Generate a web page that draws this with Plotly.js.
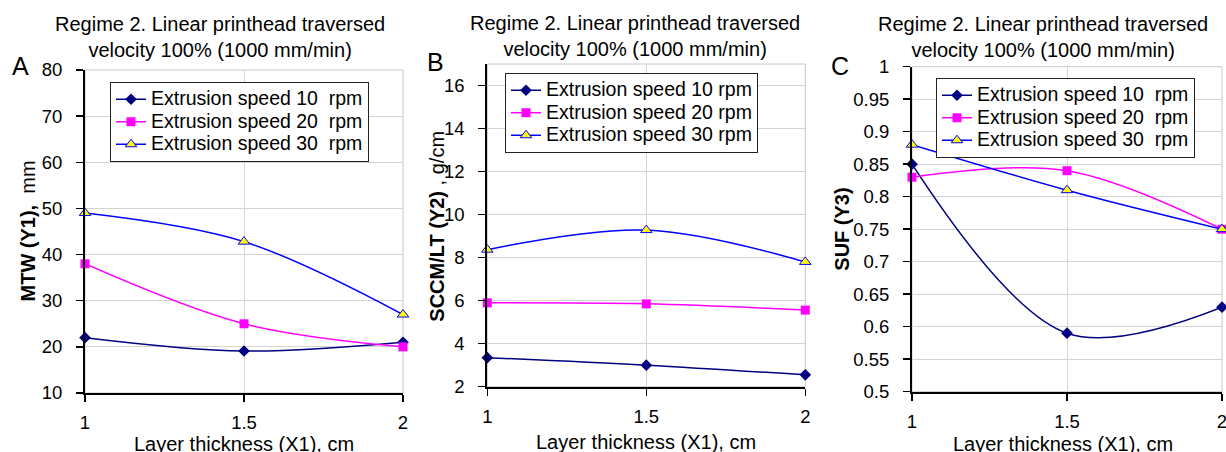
<!DOCTYPE html>
<html>
<head>
<meta charset="utf-8">
<script src="https://cdn.plot.ly/plotly-3.0.1.min.js"></script>
<style>html,body{margin:0;padding:0;background:#fff;}#chart{width:1226px;height:452px;}</style>
</head>
<body>
<div id="chart"></div>
<script>
// ---- data ----
const thickness = [1, 1.5, 2];
const thicknessLabels = ['1', '1.5', '2'];
const seriesNamesA = ['Extrusion speed 10\u00a0 rpm', 'Extrusion speed 20\u00a0 rpm', 'Extrusion speed 30\u00a0 rpm'];
const seriesNamesB = ['Extrusion speed 10 rpm', 'Extrusion speed 20 rpm', 'Extrusion speed 30 rpm'];
const mtw10 = [22, 19.1, 21];
const mtw20 = [38, 25, 20];
const mtw30 = [49, 42.8, 27];
const sccm10 = [3.35, 3.0, 2.55];
const sccm20 = [5.9, 5.85, 5.56];
const sccm30 = [8.37, 9.28, 7.8];
const suf10 = [0.85, 0.59, 0.63];
const suf20 = [0.83, 0.84, 0.75];
const suf30 = [0.88, 0.81, 0.75];
const yTicksB = [2, 4, 6, 8, 10, 12, 14, 16];

const W = 1226, H = 452;
const FONT = 'Liberation Sans, Arial, sans-serif';
const px = v => v / W;
const py = v => 1 - v / H;

const styles = [
  {line: {color: '#000080', width: 1.5, shape: 'spline', smoothing: 1}, marker: {symbol: 'diamond', size: 9, color: '#000080'}},
  {line: {color: '#FF00FF', width: 1.5, shape: 'spline', smoothing: 1}, marker: {symbol: 'square', size: 9, color: '#FF00FF'}},
  {line: {color: '#0000FF', width: 1.5, shape: 'spline', smoothing: 1}, marker: {symbol: 'triangle-up', size: 10, color: '#FFFF00', line: {color: '#0000FF', width: 1}}}
];

function mk(ys, names, xa, ya, leg) {
  return ys.map((y, i) => ({
    x: thickness, y: y,
    name: '<span style="font-size:19.5px">' + names[i] + '</span>',
    type: 'scatter', mode: 'lines+markers',
    xaxis: xa, yaxis: ya, legend: leg, cliponaxis: false,
    line: styles[i].line, marker: styles[i].marker
  }));
}

const data = [].concat(
  mk([mtw10, mtw20, mtw30], seriesNamesA, 'x', 'y', 'legend'),
  mk([sccm10, sccm20, sccm30], seriesNamesB, 'x2', 'y2', 'legend2'),
  mk([suf10, suf20, suf30], seriesNamesA, 'x3', 'y3', 'legend3')
);

const panels = [
  {l: 85, r: 403, t: 70, b: 393},
  {l: 487.3, r: 805.3, t: 64, b: 386.7},
  {l: 912, r: 1222, t: 66.7, b: 391.7}
];

function xax(p, anchor) {
  return {
    domain: [px(p.l), px(p.r)], anchor: anchor, range: [1, 2],
    tickvals: thickness, ticktext: thicknessLabels,
    showgrid: true, gridcolor: '#d4d4d4', gridwidth: 1,
    showline: true, linecolor: '#000', linewidth: 2,
    ticks: 'outside', ticklen: 7, tickwidth: 1.5, tickcolor: '#000',
    ticklabelstandoff: 5, ticklabeloverflow: 'allow',
    tickfont: {family: FONT, size: 18.5, color: '#000'},
    zeroline: false, fixedrange: true
  };
}
function yax(p, anchor, range, extra) {
  return Object.assign({
    domain: [py(p.b), py(p.t)], anchor: anchor, range: range,
    showgrid: true, gridcolor: '#d4d4d4', gridwidth: 1,
    showline: true, linecolor: '#000', linewidth: 2,
    ticks: 'outside', ticklen: 7, tickwidth: 1.5, tickcolor: '#000',
    ticklabelstandoff: 10, ticklabeloverflow: 'allow',
    tickfont: {family: FONT, size: 18.5, color: '#000'},
    zeroline: false, fixedrange: true
  }, extra);
}

const legendBase = {
  bgcolor: '#fff', bordercolor: '#222', borderwidth: 1,
  font: {family: FONT, size: 15, color: '#000'},
  xanchor: 'left', yanchor: 'top', tracegroupgap: 0, itemwidth: 30
};

const title = 'Regime 2. Linear printhead traversed<br>velocity 100% (1000 mm/min)';
const ann = [];
function addText(text, x, y, size, angle) {
  ann.push({text: text, xref: 'paper', yref: 'paper', x: px(x), y: py(y),
    xanchor: 'center', yanchor: 'middle', showarrow: false, textangle: angle || 0,
    font: {family: FONT, size: size, color: '#000'}});
}
addText(title, 220, 37.5, 20);
addText(title, 635, 36, 20);
addText(title, 1042.5, 37.5, 20);
addText('A', 20.5, 66, 25);
addText('B', 436, 62, 25);
addText('C', 840, 66, 25);
addText('<b>MTW (Y1),</b>\u00a0 mm', 27, 231.5, 20, -90);
addText('<b>SCCM/LT (Y2)</b> , g/cm', 436.7, 226, 20, -90);
addText('<b>SUF (Y3)</b>', 841.7, 229, 20, -90);
addText('Layer thickness (X1), cm', 244, 443.5, 20);
addText('Layer thickness (X1), cm', 645.8, 442, 20);
addText('Layer thickness (X1), cm', 1063, 443.5, 20);

const shapes = panels.map(p => ({
  type: 'rect', xref: 'paper', yref: 'paper', layer: 'below',
  x0: px(p.l), x1: px(p.r), y0: py(p.b), y1: py(p.t),
  line: {color: '#c8c8c8', width: 1}
}));

const layout = {
  width: W, height: H,
  margin: {l: 0, r: 0, t: 0, b: 0},
  paper_bgcolor: '#fff', plot_bgcolor: '#fff',
  font: {family: FONT, color: '#000'},
  showlegend: true,
  xaxis: xax(panels[0], 'y'),
  yaxis: yax(panels[0], 'x', [10, 80], {dtick: 10, tick0: 10}),
  xaxis2: xax(panels[1], 'y2'),
  yaxis2: yax(panels[1], 'x2', [2, 17], {tickvals: yTicksB}),
  xaxis3: xax(panels[2], 'y3'),
  yaxis3: yax(panels[2], 'x3', [0.5, 1], {dtick: 0.05, tick0: 0.5}),
  legend: Object.assign({}, legendBase, {x: px(110), y: py(82)}),
  legend2: Object.assign({}, legendBase, {x: px(505), y: py(73)}),
  legend3: Object.assign({}, legendBase, {x: px(936), y: py(78)}),
  annotations: ann,
  shapes: shapes
};

Plotly.newPlot('chart', data, layout, {displayModeBar: false, staticPlot: true});
</script>
</body>
</html>
